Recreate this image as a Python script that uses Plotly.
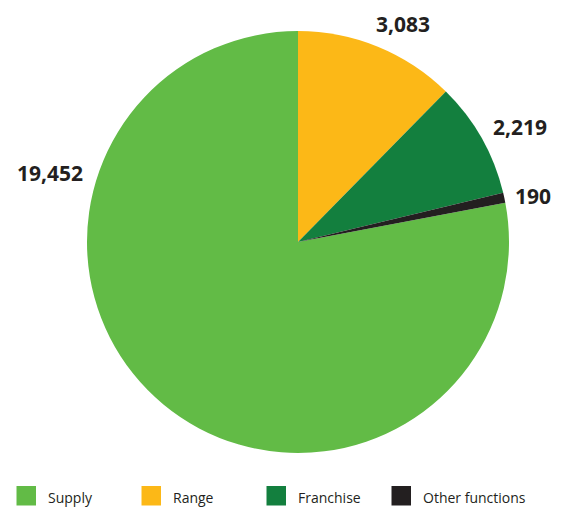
import plotly.graph_objects as go

labels = ["Supply", "Range", "Franchise", "Other functions"]
values = [19452, 3083, 2219, 190]
colors = ["#62bb46", "#fcb817", "#137f3e", "#231f20"]

W, H = 583, 507
total = sum(values)
rotation = 360.0 * (total - values[0]) / total

# layout constants (pixels)
label_pos = [(50, 173), (403, 24), (520, 127), (533, 196)]
LEG_X0, LEG_STEP, LEG_Y0, LEG_SIZE, LEG_TEXT_DX = 16.5, 125, 486, 19.5, 29.5

fig = go.Figure(go.Pie(
    labels=labels,
    values=values,
    sort=False,
    direction="clockwise",
    rotation=rotation,
    marker=dict(colors=colors, line=dict(width=0)),
    textinfo="none",
    hoverinfo="label+value",
    domain=dict(x=[87 / W, 509 / W], y=[1 - 453 / H, 1 - 31 / H]),
    showlegend=False,
))

for v, (px, py) in zip(values, label_pos):
    fig.add_annotation(
        text=f"{v:,}", x=px / W, y=1 - py / H, xref="paper", yref="paper",
        xanchor="center", yanchor="middle", showarrow=False,
        font=dict(family="Open Sans", size=21, color="#231f20", weight="bold"),
    )

# legend: squares + names
for i, (lab, col) in enumerate(zip(labels, colors)):
    x0 = LEG_X0 + i * LEG_STEP
    fig.add_shape(
        type="rect", xref="paper", yref="paper",
        x0=x0 / W, x1=(x0 + LEG_SIZE) / W,
        y0=1 - (LEG_Y0 + LEG_SIZE) / H, y1=1 - LEG_Y0 / H,
        fillcolor=col, line=dict(width=0),
    )
    fig.add_annotation(
        text=lab, x=(x0 + LEG_TEXT_DX) / W, y=1 - 497 / H,
        xref="paper", yref="paper", xanchor="left", yanchor="middle",
        showarrow=False,
        font=dict(family="Open Sans", size=14, color="#231f20"),
    )

fig.update_layout(
    width=W, height=H,
    margin=dict(l=0, r=0, t=0, b=0, autoexpand=False),
    paper_bgcolor="white", plot_bgcolor="white",
    font=dict(family="Open Sans", color="#231f20"),
    showlegend=False,
)

fig.write_html(
    "out.html",
    config={"displayModeBar": False},
    post_script="document.body.style.margin='0';document.body.style.overflow='hidden';",
)
